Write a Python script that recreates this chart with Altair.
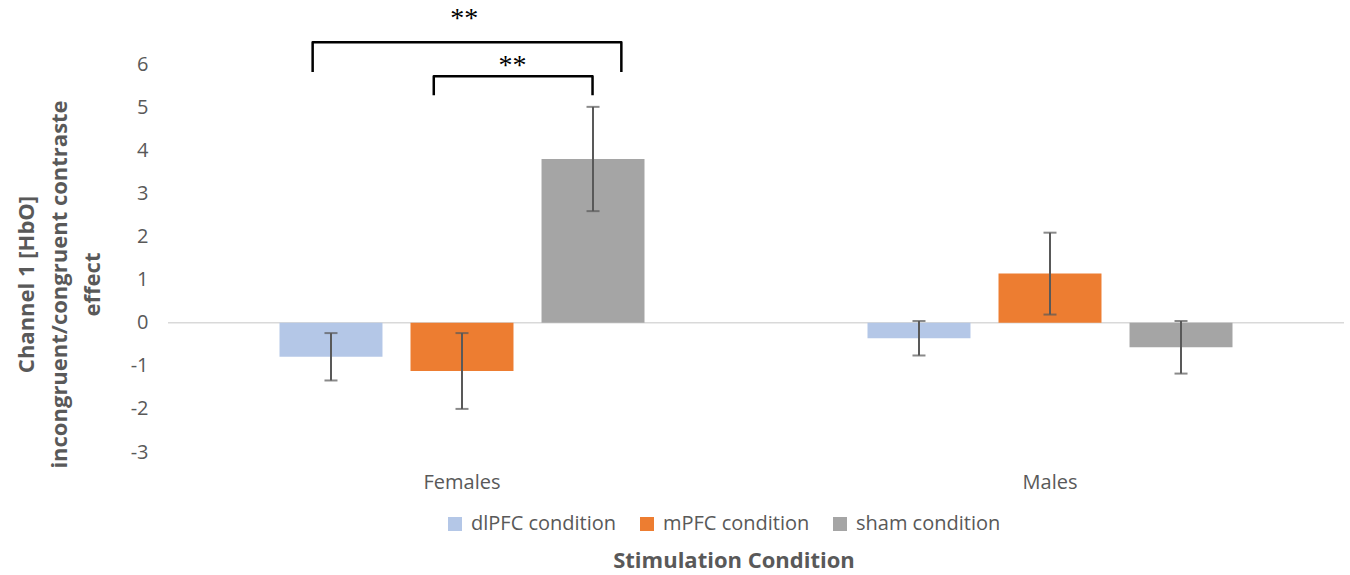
import altair as alt
import pandas as pd

# Group means and error half-widths of the channel 1 [HbO] contrast effect
groups = ["Females", "Males"]
conditions = ["dlPFC condition", "mPFC condition", "sham condition"]
females_mean = [-0.79, -1.12, 3.80]
females_err = [0.55, 0.88, 1.21]
males_mean = [-0.36, 1.14, -0.57]
males_err = [0.40, 0.95, 0.61]
colors = ["#B4C7E7", "#ED7D31", "#A5A5A5"]
y_ticks = [-3, -2, -1, 0, 1, 2, 3, 4, 5, 6]

# Significance brackets: horizontal span in group units (Females spans 0-1),
# heights in effect units
bracket_left = [0.246, 0.452]
bracket_right = [0.771, 0.722]
bracket_top = [6.51, 5.72]
bracket_foot = [5.82, 5.28]
star_x = [0.504, 0.586]
star_y = [7.05, 5.95]
star_text = ["**", "**"]

GREY = "#595959"
FONT = "Open Sans"

rows = []
for g, means, errs in [("Females", females_mean, females_err),
                       ("Males", males_mean, males_err)]:
    for c, m, e in zip(conditions, means, errs):
        rows.append({"group": g, "condition": c, "mean": m,
                     "lo": m - e, "hi": m + e})
bars_df = pd.DataFrame(rows)

bracket_rows = []
for i in range(len(bracket_left)):
    pts = [(bracket_left[i], bracket_foot[i]), (bracket_left[i], bracket_top[i]),
           (bracket_right[i], bracket_top[i]), (bracket_right[i], bracket_foot[i])]
    for k, (bx, by) in enumerate(pts):
        bracket_rows.append({"bracket": i, "step": k, "bx": bx, "by": by})
bracket_df = pd.DataFrame(bracket_rows)
star_df = pd.DataFrame({"sx": star_x, "sy": star_y, "label": star_text})

y_scale = alt.Scale(domain=[-3, 7.49], nice=False, zero=False)

x_enc = alt.X("group:N", sort=groups,
              scale=alt.Scale(paddingInner=0, paddingOuter=0),
              axis=alt.Axis(title=None, labelAngle=0, ticks=False, domain=False,
                            labelFontSize=20, labelColor=GREY, labelFont=FONT,
                            labelPadding=20))
xoff_enc = alt.XOffset("condition:N", sort=conditions,
                       scale=alt.Scale(paddingInner=0.214, paddingOuter=0.851))

# one shared y axis definition, repeated on every layer so the merged axis survives
y_axis = alt.Axis(values=y_ticks, labelExpr="datum.value + ''", grid=False,
                  ticks=False, domain=False,
                  labelFontSize=20, labelColor=GREY, labelFont=FONT, labelPadding=20,
                  title=["Channel 1 [HbO]", "incongruent/congruent contraste", "effect"],
                  titleFontSize=22, titleFontWeight="bold", titleColor=GREY,
                  titleFont=FONT, titleLineHeight=33, titlePadding=26, titleY=284)

zero_line = alt.Chart(pd.DataFrame({"z": [0]})).mark_rule(
    color="#D9D9D9", strokeWidth=1.5
).encode(y=alt.Y("z:Q", scale=y_scale, axis=y_axis))

base = alt.Chart(bars_df)

bars = base.mark_bar().encode(
    x=x_enc,
    xOffset=xoff_enc,
    y=alt.Y("mean:Q", scale=y_scale, axis=y_axis),
    color=alt.Color("condition:N", sort=conditions,
                    scale=alt.Scale(domain=conditions, range=colors),
                    legend=alt.Legend(orient="none", legendX=277, legendY=514,
                                      title=None, direction="horizontal",
                                      symbolType="square", symbolSize=196,
                                      symbolStrokeWidth=0, labelFontSize=20,
                                      labelColor=GREY, labelFont=FONT,
                                      columnPadding=20, labelOffset=6)),
)

err_rule = base.mark_rule(color=GREY, strokeWidth=2).encode(
    x=x_enc, xOffset=xoff_enc,
    y=alt.Y("lo:Q", scale=y_scale, axis=y_axis), y2="hi:Q",
)
cap_lo = base.mark_tick(color=GREY, thickness=2, size=13).encode(
    x=x_enc, xOffset=xoff_enc, y=alt.Y("lo:Q", scale=y_scale, axis=y_axis),
)
cap_hi = base.mark_tick(color=GREY, thickness=2, size=13).encode(
    x=x_enc, xOffset=xoff_enc, y=alt.Y("hi:Q", scale=y_scale, axis=y_axis),
)

bx_scale = alt.Scale(domain=[0, 2], nice=False, zero=False)
brackets = alt.Chart(bracket_df).mark_line(
    color="black", strokeWidth=2.5, strokeJoin="round", clip=False
).encode(
    x=alt.X("bx:Q", scale=bx_scale, axis=None),
    y=alt.Y("by:Q", scale=y_scale, axis=y_axis),
    detail="bracket:N",
    order="step:O",
)
stars = alt.Chart(star_df).mark_text(
    font="Liberation Serif", fontSize=28, color="black", baseline="middle"
).encode(
    x=alt.X("sx:Q", scale=bx_scale, axis=None),
    y=alt.Y("sy:Q", scale=y_scale, axis=y_axis),
    text="label:N",
)

main = alt.layer(zero_line, bars, err_rule, cap_lo, cap_hi)
chart = alt.layer(main, brackets, stars).resolve_scale(x="independent").properties(
    width=1176,
    height=452,
    padding={"left": 15, "top": 0, "right": 0, "bottom": 0},
    background="white",
    title=alt.TitleParams("Stimulation Condition", orient="bottom", anchor="middle",
                          frame="group", dx=-22,
                          fontSize=22, fontWeight="bold", color=GREY, font=FONT,
                          offset=17),
).configure_view(stroke=None)

chart.save("out.html", embed_options={"renderer": "svg", "actions": False})
